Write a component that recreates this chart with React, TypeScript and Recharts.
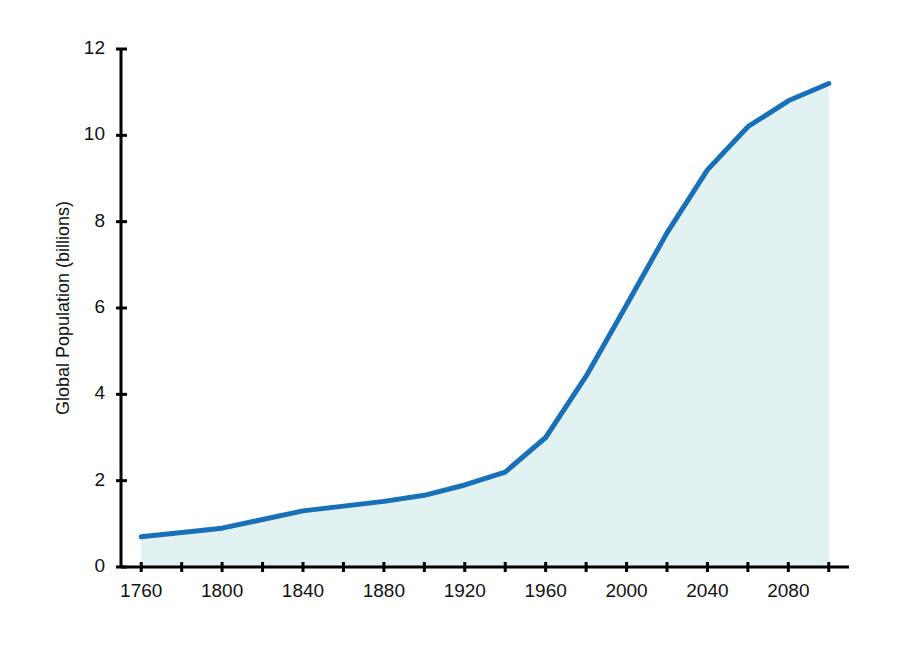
import React from 'react';
import { AreaChart, Area, XAxis, YAxis } from 'recharts';

const years = [1760, 1780, 1800, 1820, 1840, 1860, 1880, 1900, 1920, 1940, 1960, 1980, 2000, 2020, 2040, 2060, 2080, 2100];
const population = [0.7, 0.8, 0.9, 1.1, 1.3, 1.41, 1.52, 1.66, 1.9, 2.2, 3.0, 4.42, 6.07, 7.74, 9.2, 10.2, 10.8, 11.2];
const yearTicks = [1760, 1780, 1800, 1820, 1840, 1860, 1880, 1900, 1920, 1940, 1960, 1980, 2000, 2020, 2040, 2060, 2080, 2100];
const populationTicks = [0, 2, 4, 6, 8, 10, 12];

const data = years.map((year, i) => ({ year, population: population[i] }));

const FONT = '"Liberation Sans", Arial, sans-serif';

const XTick = (props: any) => {
  const { x, y, payload } = props;
  const labelled = (payload.value - 1760) % 40 === 0;
  return (
    <g>
      <line x1={x} x2={x} y1={y - 5} y2={y + 5} stroke="#000" strokeWidth={3} />
      {labelled && (
        <text
          x={x}
          y={y + 25}
          textAnchor="middle"
          dominantBaseline="middle"
          style={{ fontFamily: FONT, fontSize: 19, fill: '#111' }}
        >
          {payload.value}
        </text>
      )}
    </g>
  );
};

const YTick = (props: any) => {
  const { x, y, payload } = props;
  return (
    <g>
      <line x1={x - 5} x2={x + 6} y1={y} y2={y} stroke="#000" strokeWidth={3} />
      <text
        x={x - 16}
        y={y}
        textAnchor="end"
        dominantBaseline="middle"
        style={{ fontFamily: FONT, fontSize: 19, fill: '#111' }}
      >
        {payload.value}
      </text>
    </g>
  );
};

const App: React.FC = () => {
  return (
    <div style={{ position: 'absolute', left: 0, top: 0, width: 900, height: 669, background: '#fff' }}>
      <AreaChart width={900} height={669} data={data} margin={{ top: 49, right: 51, bottom: 0, left: 0 }}>
        <XAxis
          type="number"
          dataKey="year"
          domain={[1750, 2110]}
          ticks={yearTicks}
          interval={0}
          allowDataOverflow
          height={102}
          tickSize={0}
          tickMargin={0}
          tickLine={false}
          axisLine={{ stroke: '#000', strokeWidth: 3 }}
          tick={<XTick />}
        />
        <YAxis
          type="number"
          domain={[0, 12]}
          ticks={populationTicks}
          interval={0}
          width={121}
          tickSize={0}
          tickMargin={0}
          tickLine={false}
          axisLine={{ stroke: '#000', strokeWidth: 3 }}
          tick={<YTick />}
          label={{
            value: 'Global Population (billions)',
            angle: -90,
            position: 'center',
            dx: 2,
            fontSize: 18,
            style: { fontFamily: FONT, fontSize: 18, fill: '#111' },
          }}
        />
        <Area
          type="linear"
          dataKey="population"
          stroke="#1870b8"
          strokeWidth={5}
          strokeLinecap="round"
          strokeLinejoin="round"
          fill="#e2f2f2"
          fillOpacity={1}
          isAnimationActive={false}
        />
      </AreaChart>
    </div>
  );
};

export default App;
